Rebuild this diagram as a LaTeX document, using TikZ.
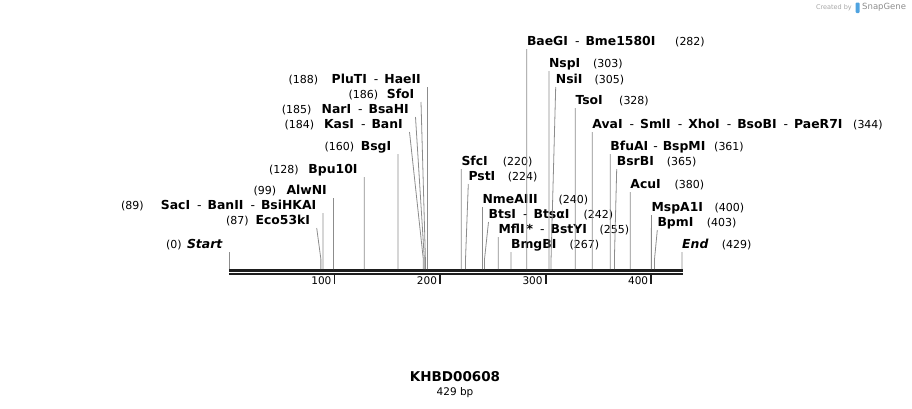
\documentclass[tikz,border=0pt]{standalone}
\usepackage{fontspec}
\setmainfont{DejaVu Sans}
\usetikzlibrary{positioning, calc}

\definecolor{leadgray}{HTML}{8C8C8C}
\definecolor{rulerblack}{HTML}{1E1E1E}
\definecolor{snapblue}{HTML}{4FA3E0}

\newcommand{\sepr}{\hspace{7pt}{\mdseries -}\hspace{6pt}}
\newcommand{\bpx}[1]{229+1.0559*#1}

\begin{document}
\begin{tikzpicture}[
  x=1pt, y=-1pt,
  lbl/.style={inner ysep=2pt, text height=9pt, text depth=1pt},
  enzleft/.style={lbl, font=\fontsize{12.4}{14}\selectfont\bfseries, inner xsep=6.5pt, anchor=south east},
  enzright/.style={lbl, font=\fontsize{12.4}{14}\selectfont\bfseries, inner xsep=0pt, anchor=south west},
  sitenum/.style={lbl, font=\fontsize{11}{13}\selectfont, inner xsep=0pt, anchor=south west},
  leader/.style={draw=leadgray, line width=0.8pt},
  rulerline/.style={draw=rulerblack, line width=2.5pt},
  tick/.style={draw=rulerblack, line width=1.8pt},
  ticklbl/.style={font=\fontsize{10.5}{12}\selectfont, inner sep=0pt, anchor=east},
  title/.style={font=\fontsize{13.5}{16}\selectfont\bfseries, inner sep=0pt},
  sub/.style={font=\fontsize{10.5}{12}\selectfont, inner sep=0pt}
]
\useasboundingbox (0,0) rectangle (912,408);

% ------------------------------------------------------------
% Cut sites on the ruler
% ------------------------------------------------------------

\coordinate (c0) at ({\bpx{0}},269);
\coordinate (c87) at ({\bpx{87}},269);
\coordinate (c89) at ({\bpx{89}},269);
\coordinate (c99) at ({\bpx{99}},269);
\coordinate (c128) at ({\bpx{128}},269);
\coordinate (c160) at ({\bpx{160}},269);
\coordinate (c184) at ({\bpx{184}},269);
\coordinate (c185) at ({\bpx{185}},269);
\coordinate (c186) at ({\bpx{186}},269);
\coordinate (c188) at ({\bpx{188}},269);
\coordinate (c220) at ({\bpx{220}},269);
\coordinate (c224) at ({\bpx{224}},269);
\coordinate (c240) at ({\bpx{240}},269);
\coordinate (c242) at ({\bpx{242}},269);
\coordinate (c255) at ({\bpx{255}},269);
\coordinate (c267) at ({\bpx{267}},269);
\coordinate (c282) at ({\bpx{282}},269);
\coordinate (c303) at ({\bpx{303}},269);
\coordinate (c305) at ({\bpx{305}},269);
\coordinate (c328) at ({\bpx{328}},269);
\coordinate (c344) at ({\bpx{344}},269);
\coordinate (c361) at ({\bpx{361}},269);
\coordinate (c365) at ({\bpx{365}},269);
\coordinate (c380) at ({\bpx{380}},269);
\coordinate (c400) at ({\bpx{400}},269);
\coordinate (c403) at ({\bpx{403}},269);
\coordinate (c429) at ({\bpx{429}},269);

% ------------------------------------------------------------
% Ruler
% ------------------------------------------------------------

\draw[rulerline] (229,270.5) -- (683,270.5);
\draw[rulerline] (229,274.2) -- (683,274.2);

\draw[tick] ({\bpx{100}},275) -- ++(0,8.5);
\draw[tick] ({\bpx{200}},275) -- ++(0,8.5);
\draw[tick] ({\bpx{300}},275) -- ++(0,8.5);
\draw[tick] ({\bpx{400}},275) -- ++(0,8.5);

\node[ticklbl] (t100) at ({\bpx{100}-3},281) {100};
\node[ticklbl] (t200) at ({\bpx{200}-3},281) {200};
\node[ticklbl] (t300) at ({\bpx{300}-3},281) {300};
\node[ticklbl] (t400) at ({\bpx{400}-3},281) {400};

% ------------------------------------------------------------
% Sites labelled on the left
% ------------------------------------------------------------

\node[enzleft] (start) at (229,252) {\itshape Start};
\node[enzleft] (eco) at (316.7,228) {Eco53kI};
\node[enzleft] (saci) at (323.0,213) {SacI\sepr BanII\sepr BsiHKAI};
\node[enzleft] (alwni) at (333.5,198) {AlwNI};
\node[enzleft] (bpu) at (364.2,177) {Bpu10I};
\node[enzleft] (bsgi) at (397.9,154) {BsgI};
\node[enzleft] (kasi) at (409.5,132) {KasI\sepr BanI};
\node[enzleft] (nari) at (415.5,117) {NarI\sepr BsaHI};
\node[enzleft] (sfoi) at (421,102) {SfoI};
\node[enzleft] (pluti) at (427.5,87) {PluTI\sepr HaeII};

\node[sitenum] (n0) at (166,252) {(0)};
\node[sitenum] (n87) at (226,228) {(87)};
\node[sitenum] (n89) at (121,213) {(89)};
\node[sitenum] (n99) at (253.3,198) {(99)};
\node[sitenum] (n128) at (269,177) {(128)};
\node[sitenum] (n160) at (324.3,154) {(160)};
\node[sitenum] (n184) at (284.3,132) {(184)};
\node[sitenum] (n185) at (281.7,117) {(185)};
\node[sitenum] (n186) at (348.3,102) {(186)};
\node[sitenum] (n188) at (288.3,87) {(188)};

\draw[leader] (start.south east) -- (c0);
\draw[leader] (eco.south east) -- ([yshift=10pt]c87) -- (c87);
\draw[leader] (saci.south east) -- (c89);
\draw[leader] (alwni.south east) -- (c99);
\draw[leader] (bpu.south east) -- (c128);
\draw[leader] (bsgi.south east) -- (c160);
\draw[leader] (kasi.south east) -- ([yshift=10pt]c184) -- (c184);
\draw[leader] (nari.south east) -- ([yshift=10pt]c185) -- (c185);
\draw[leader] (sfoi.south east) -- ([yshift=10pt]c186) -- (c186);
\draw[leader] (pluti.south east) -- (c188);

% ------------------------------------------------------------
% Sites labelled on the right
% ------------------------------------------------------------

\node[enzright] (sfci) at (461.3,169) {SfcI};
\node[enzright] (psti) at (468.3,184) {PstI};
\node[enzright] (nme) at (482.4,207) {NmeAIII};
\node[enzright] (btsi) at (488.5,222) {BtsI\sepr BtsαI};
\node[enzright] (mfli) at (498.3,237) {MflI\hspace{2pt}*\sepr BstYI};
\node[enzright] (bmgbi) at (510.9,252) {BmgBI};
\node[enzright] (baegi) at (526.8,49) {BaeGI\sepr Bme1580I};
\node[enzright] (nspi) at (548.9,71) {NspI};
\node[enzright] (nsii) at (555.7,87) {NsiI};
\node[enzright] (tsoi) at (575.3,108) {TsoI};
\node[enzright] (avai) at (592.2,132) {AvaI\sepr SmlI\sepr XhoI\sepr BsoBI\sepr PaeR7I};
\node[enzright] (bfuai) at (610.2,154) {BfuAI\hspace{5pt}{\mdseries -}\hspace{5pt}BspMI};
\node[enzright] (bsrbi) at (616.7,169) {BsrBI};
\node[enzright] (acui) at (630.2,192) {AcuI};
\node[enzright] (mspa) at (651.4,215) {MspA1I};
\node[enzright] (bpmi) at (657.3,230) {BpmI};
\node[enzright] (endl) at (682,252) {\itshape End};

\node[sitenum] (n220) at (502.7,169) {(220)};
\node[sitenum] (n224) at (507.7,184) {(224)};
\node[sitenum] (n240) at (558.3,207) {(240)};
\node[sitenum] (n242) at (583.3,222) {(242)};
\node[sitenum] (n255) at (599.3,237) {(255)};
\node[sitenum] (n267) at (569.3,252) {(267)};
\node[sitenum] (n282) at (675,49) {(282)};
\node[sitenum] (n303) at (593,71) {(303)};
\node[sitenum] (n305) at (594.3,87) {(305)};
\node[sitenum] (n328) at (619,108) {(328)};
\node[sitenum] (n344) at (853,132) {(344)};
\node[sitenum] (n361) at (714,154) {(361)};
\node[sitenum] (n365) at (666.7,169) {(365)};
\node[sitenum] (n380) at (674.3,192) {(380)};
\node[sitenum] (n400) at (714.3,215) {(400)};
\node[sitenum] (n403) at (706.7,230) {(403)};
\node[sitenum] (n429) at (721.7,252) {(429)};

\draw[leader] (sfci.south west) -- (c220);
\draw[leader] (psti.south west) -- ([yshift=10pt]c224) -- (c224);
\draw[leader] (nme.south west) -- (c240);
\draw[leader] (btsi.south west) -- ([yshift=10pt]c242) -- (c242);
\draw[leader] (mfli.south west) -- (c255);
\draw[leader] (bmgbi.south west) -- (c267);
\draw[leader] (baegi.south west) -- (c282);
\draw[leader] (nspi.south west) -- (c303);
\draw[leader] (nsii.south west) -- ([yshift=10pt]c305) -- (c305);
\draw[leader] (tsoi.south west) -- (c328);
\draw[leader] (avai.south west) -- (c344);
\draw[leader] (bfuai.south west) -- (c361);
\draw[leader] (bsrbi.south west) -- ([yshift=10pt]c365) -- (c365);
\draw[leader] (acui.south west) -- (c380);
\draw[leader] (mspa.south west) -- (c400);
\draw[leader] (bpmi.south west) -- ([yshift=10pt]c403) -- (c403);
\draw[leader] (endl.south west) -- (c429);

% ------------------------------------------------------------
% Sequence name
% ------------------------------------------------------------

\node[title] (seqname) at (455,376.5) {KHBD00608};
\node[sub, below=6pt of seqname] (seqlen) {429 bp};

% ------------------------------------------------------------
% Credit
% ------------------------------------------------------------

\node[font=\fontsize{6.5}{8}\selectfont, text=black!35, inner sep=0pt, anchor=east] (madeby) at (852,7.5) {Created by};
\fill[snapblue, rounded corners=1pt] (855.5,2.5) rectangle (859.5,13);
\node[font=\fontsize{8.5}{10}\selectfont, text=black!45, inner sep=0pt, anchor=west] (snapgene) at (862,7.5) {SnapGene};

\end{tikzpicture}
\end{document}
